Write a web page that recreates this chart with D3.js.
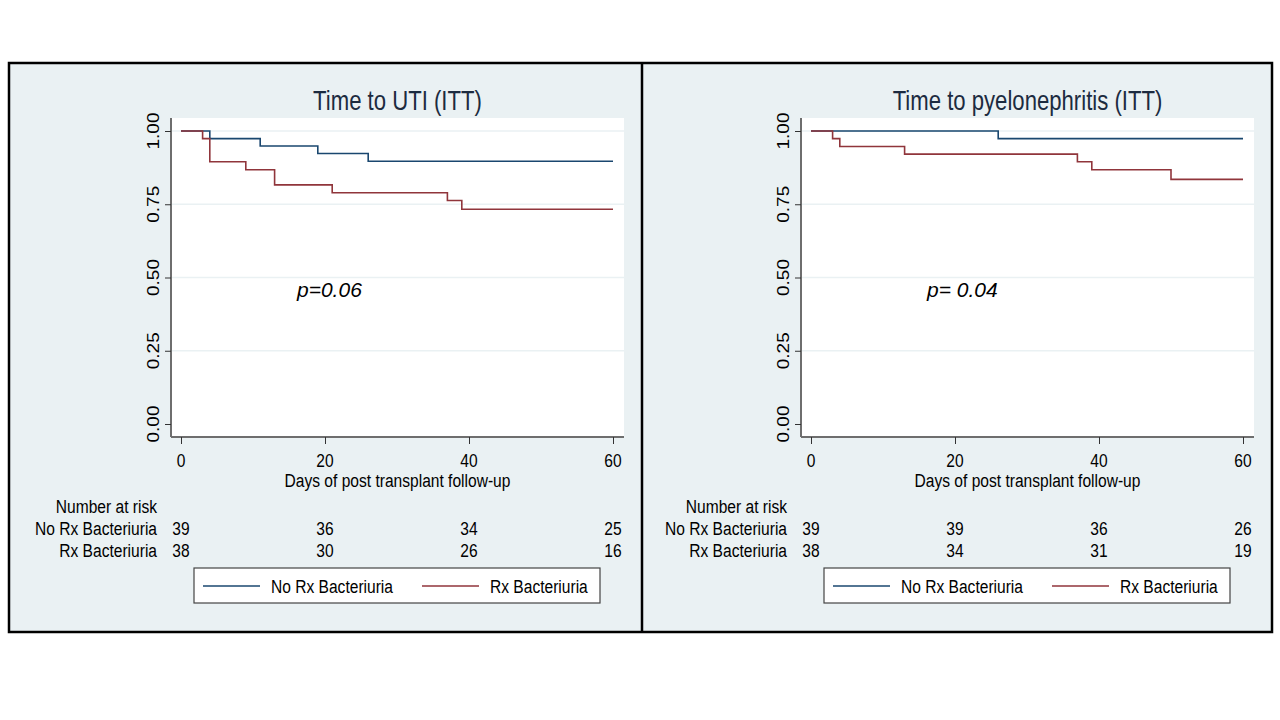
<!DOCTYPE html>
<html>
<head>
<meta charset="utf-8">
<script src="https://cdn.jsdelivr.net/npm/d3@7"></script>
<style>
  body { margin: 0; background: #fff; }
  svg text { font-family: "Liberation Sans", Arial, sans-serif; }
</style>
</head>
<body>
<svg width="1280" height="720"></svg>
<script>
// ---- data ----
var xTicks = [0, 20, 40, 60];
var yTicks = [0, 0.25, 0.5, 0.75, 1];
var groups = ["No Rx Bacteriuria", "Rx Bacteriuria"];
var colors = ["#1a476f", "#90353b"];

var titles = ["Time to UTI (ITT)", "Time to pyelonephritis (ITT)"];
var pLabels = ["p=0.06", "p= 0.04"];

// Kaplan-Meier steps (day, survival)
var utiNoRxDays = [0, 4, 11, 19, 26, 60];
var utiNoRxSurv = [1, 0.974, 0.949, 0.923, 0.897, 0.897];
var utiRxDays = [0, 3, 4, 9, 13, 21, 37, 39, 60];
var utiRxSurv = [1, 0.974, 0.895, 0.868, 0.816, 0.789, 0.763, 0.733, 0.733];

var pyeNoRxDays = [0, 26, 60];
var pyeNoRxSurv = [1, 0.974, 0.974];
var pyeRxDays = [0, 3, 4, 13, 37, 39, 50, 60];
var pyeRxSurv = [1, 0.974, 0.947, 0.921, 0.895, 0.868, 0.835, 0.835];

// number at risk at 0,20,40,60
var utiRiskNoRx = [39, 36, 34, 25];
var utiRiskRx = [38, 30, 26, 16];
var pyeRiskNoRx = [39, 39, 36, 26];
var pyeRiskRx = [38, 34, 31, 19];

var panels = [
  {dx: 0, title: titles[0], p: pLabels[0],
   series: [d3.zip(utiNoRxDays, utiNoRxSurv), d3.zip(utiRxDays, utiRxSurv)],
   risk: [utiRiskNoRx, utiRiskRx]},
  {dx: 630, title: titles[1], p: pLabels[1],
   series: [d3.zip(pyeNoRxDays, pyeNoRxSurv), d3.zip(pyeRxDays, pyeRxSurv)],
   risk: [pyeRiskNoRx, pyeRiskRx]}
];

var svg = d3.select("svg");

// background + frame
svg.append("rect")
  .attr("x", 9).attr("y", 63).attr("width", 1263).attr("height", 569)
  .attr("fill", "#eaf1f3").attr("stroke", "#000").attr("stroke-width", 2.5);
svg.append("line")
  .attr("x1", 642).attr("x2", 642).attr("y1", 63).attr("y2", 632)
  .attr("stroke", "#000").attr("stroke-width", 2.5);

// condensed text helper (the original image is squeezed horizontally)
function label(g, x, y, str, anchor, size, rot) {
  return g.append("text")
    .attr("transform", "translate(" + x + "," + y + ") scale(0.82,1)" + (rot ? " rotate(-90)" : ""))
    .attr("text-anchor", anchor)
    .attr("font-size", size)
    .attr("fill", "#000")
    .text(str);
}

panels.forEach(function(p) {
  var g = svg.append("g").attr("transform", "translate(" + p.dx + ",0)");

  var x = d3.scaleLinear().domain([0, 60]).range([181, 613]);
  var y = d3.scaleLinear().domain([0, 1]).range([424, 131]);

  // plot region
  g.append("rect")
    .attr("x", 171).attr("y", 118).attr("width", 453).attr("height", 319)
    .attr("fill", "#fff");

  // grid
  g.selectAll(".grid")
    .data(yTicks.filter(function(d) { return d > 0; }))
    .enter().append("line")
    .attr("x1", 171).attr("x2", 624)
    .attr("y1", function(d) { return y(d); })
    .attr("y2", function(d) { return y(d); })
    .attr("stroke", "#eaf1f3").attr("stroke-width", 1.5);

  // y axis
  var yAxis = g.append("g").attr("transform", "translate(171,0)")
    .call(d3.axisLeft(y).tickValues(yTicks).tickSize(6).tickFormat(""));
  yAxis.select(".domain").attr("d", "M0,118V437").attr("stroke", "#6e6e6e").attr("stroke-width", 2);
  yAxis.selectAll(".tick line").attr("stroke", "#333");
  yTicks.forEach(function(t) {
    label(g, 158.5, y(t), d3.format(".2f")(t), "middle", 19, true);
  });

  // x axis
  var xAxis = g.append("g").attr("transform", "translate(0,437)")
    .call(d3.axisBottom(x).tickValues(xTicks).tickSize(7).tickFormat(""));
  xAxis.select(".domain").attr("d", "M171,0H624").attr("stroke", "#6e6e6e").attr("stroke-width", 2);
  xAxis.selectAll(".tick line").attr("stroke", "#333");
  xTicks.forEach(function(t) {
    label(g, x(t), 466.5, t, "middle", 19);
  });
  label(g, 397.5, 486.5, "Days of post transplant follow-up", "middle", 19);

  // title
  label(g, 397.5, 110, p.title, "middle", 27).attr("fill", "#1c2b40");

  // curves
  var line = d3.line()
    .x(function(d) { return x(d[0]); })
    .y(function(d) { return y(d[1]); })
    .curve(d3.curveStepAfter);
  g.selectAll(".km")
    .data(p.series)
    .enter().append("path")
    .attr("d", line)
    .attr("fill", "none")
    .attr("stroke", function(d, i) { return colors[i]; })
    .attr("stroke-width", 1.6);

  // p value
  g.append("text")
    .attr("x", 297).attr("y", 297)
    .attr("font-family", "'Open Sans', 'Noto Sans', sans-serif")
    .attr("font-style", "italic")
    .attr("font-size", 21)
    .attr("fill", "#000")
    .text(p.p);

  // number at risk
  label(g, 157, 512.5, "Number at risk", "end", 19);
  var rowY = [535, 557];
  groups.forEach(function(name, gi) {
    label(g, 157, rowY[gi], name, "end", 19);
    p.risk[gi].forEach(function(n, i) {
      label(g, x(xTicks[i]), rowY[gi], n, "middle", 19);
    });
  });

  // legend
  var lg = g.append("g").attr("transform", "translate(194,568)");
  lg.append("rect").attr("width", 406).attr("height", 35)
    .attr("fill", "#fff").attr("stroke", "#444").attr("stroke-width", 1.2);
  var keyX = [9, 228];
  groups.forEach(function(name, gi) {
    lg.append("line")
      .attr("x1", keyX[gi]).attr("x2", keyX[gi] + 57)
      .attr("y1", 18).attr("y2", 18)
      .attr("stroke", colors[gi]).attr("stroke-width", 1.6);
    label(lg, keyX[gi] + 68, 25, name, "start", 19);
  });
});
</script>
</body>
</html>
